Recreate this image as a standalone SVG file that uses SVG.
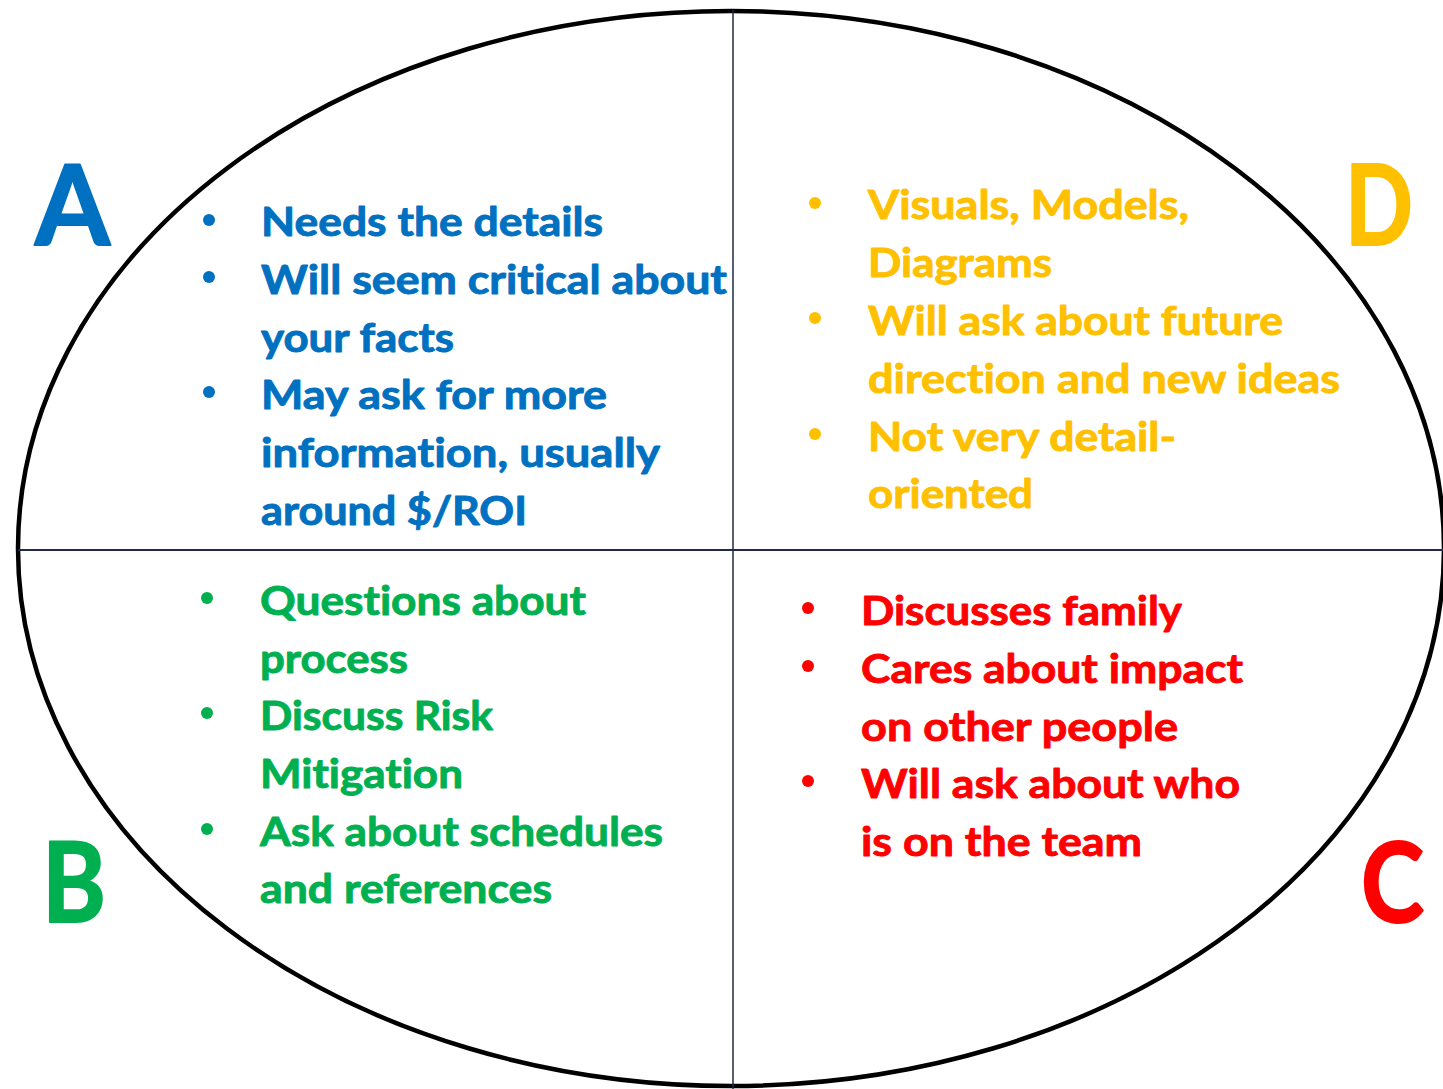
<svg xmlns="http://www.w3.org/2000/svg" width="1443" height="1089" viewBox="0 0 1443 1089">
  <style>
    .t { font-family: Lato, "Open Sans", "Liberation Sans", sans-serif; font-weight: 700; font-size: 40px; font-variant-ligatures: none; stroke-width: 0.9; stroke-linejoin: round; }
    .big { font-family: Lato, "Open Sans", "Liberation Sans", sans-serif; font-weight: 700; font-size: 112px; stroke-width: 2; stroke-linejoin: round; }
    .blue { fill: #0070C0; stroke: #0070C0; }
    .gold { fill: #FFC000; stroke: #FFC000; }
    .green { fill: #00B050; stroke: #00B050; }
    .red { fill: #FF0000; stroke: #FF0000; }
    circle { stroke: none; }
  </style>
  <rect width="1443" height="1089" fill="#ffffff"/>

  <!-- outline and quadrant dividers -->
  <g id="frame">
    <ellipse cx="731" cy="548.5" rx="713" ry="537.5" fill="none" stroke="#000000" stroke-width="4.5"/>
    <line x1="733" y1="10" x2="733" y2="1089" stroke="#1F2A44" stroke-width="1.5"/>
    <line x1="18" y1="550" x2="1443" y2="550" stroke="#1F2A44" stroke-width="2"/>
  </g>

  <!-- quadrant A (top left) -->
  <g id="quadrant-a" class="blue">
    <text class="big" x="35" y="245" textLength="75" lengthAdjust="spacingAndGlyphs">A</text>
    <circle cx="209" cy="220" r="6"/>
    <circle cx="209" cy="277" r="6"/>
    <circle cx="209" cy="392" r="6"/>
    <text class="t" x="261" y="236" textLength="342" lengthAdjust="spacingAndGlyphs">Needs the details</text>
    <text class="t" x="261" y="294" textLength="466" lengthAdjust="spacingAndGlyphs">Will seem critical about</text>
    <text class="t" x="261" y="352" textLength="193" lengthAdjust="spacingAndGlyphs">your facts</text>
    <text class="t" x="261" y="409" textLength="346" lengthAdjust="spacingAndGlyphs">May ask for more</text>
    <text class="t" x="261" y="467" textLength="399" lengthAdjust="spacingAndGlyphs">information, usually</text>
    <text class="t" x="261" y="525" textLength="266" lengthAdjust="spacingAndGlyphs">around $/ROI</text>
  </g>

  <!-- quadrant D (top right) -->
  <g id="quadrant-d" class="gold">
    <text class="big" x="1345" y="245" textLength="68" lengthAdjust="spacingAndGlyphs">D</text>
    <circle cx="815" cy="203" r="6"/>
    <circle cx="815" cy="318" r="6"/>
    <circle cx="815" cy="434" r="6"/>
    <text class="t" x="868" y="219" textLength="321" lengthAdjust="spacingAndGlyphs">Visuals, Models,</text>
    <text class="t" x="868" y="277" textLength="184" lengthAdjust="spacingAndGlyphs">Diagrams</text>
    <text class="t" x="868" y="335" textLength="415" lengthAdjust="spacingAndGlyphs">Will ask about future</text>
    <text class="t" x="868" y="393" textLength="472" lengthAdjust="spacingAndGlyphs">direction and new ideas</text>
    <text class="t" x="868" y="451" textLength="308" lengthAdjust="spacingAndGlyphs">Not very detail-</text>
    <text class="t" x="868" y="508" textLength="165" lengthAdjust="spacingAndGlyphs">oriented</text>
  </g>

  <!-- quadrant B (bottom left) -->
  <g id="quadrant-b" class="green">
    <text class="big" x="42" y="922" textLength="64" lengthAdjust="spacingAndGlyphs">B</text>
    <circle cx="207" cy="598" r="6"/>
    <circle cx="207" cy="713" r="6"/>
    <circle cx="207" cy="829" r="6"/>
    <text class="t" x="260" y="615" textLength="326" lengthAdjust="spacingAndGlyphs">Questions about</text>
    <text class="t" x="260" y="673" textLength="148" lengthAdjust="spacingAndGlyphs">process</text>
    <text class="t" x="260" y="730" textLength="233" lengthAdjust="spacingAndGlyphs">Discuss Risk</text>
    <text class="t" x="260" y="788" textLength="203" lengthAdjust="spacingAndGlyphs">Mitigation</text>
    <text class="t" x="260" y="846" textLength="403" lengthAdjust="spacingAndGlyphs">Ask about schedules</text>
    <text class="t" x="260" y="903" textLength="292" lengthAdjust="spacingAndGlyphs">and references</text>
  </g>

  <!-- quadrant C (bottom right) -->
  <g id="quadrant-c" class="red">
    <text class="big" x="1361" y="922" textLength="63" lengthAdjust="spacingAndGlyphs">C</text>
    <circle cx="808" cy="608" r="6"/>
    <circle cx="808" cy="666" r="6"/>
    <circle cx="808" cy="781" r="6"/>
    <text class="t" x="861" y="625" textLength="321" lengthAdjust="spacingAndGlyphs">Discusses family</text>
    <text class="t" x="861" y="683" textLength="382" lengthAdjust="spacingAndGlyphs">Cares about impact</text>
    <text class="t" x="861" y="741" textLength="317" lengthAdjust="spacingAndGlyphs">on other people</text>
    <text class="t" x="861" y="798" textLength="379" lengthAdjust="spacingAndGlyphs">Will ask about who</text>
    <text class="t" x="861" y="856" textLength="281" lengthAdjust="spacingAndGlyphs">is on the team</text>
  </g>
</svg>
